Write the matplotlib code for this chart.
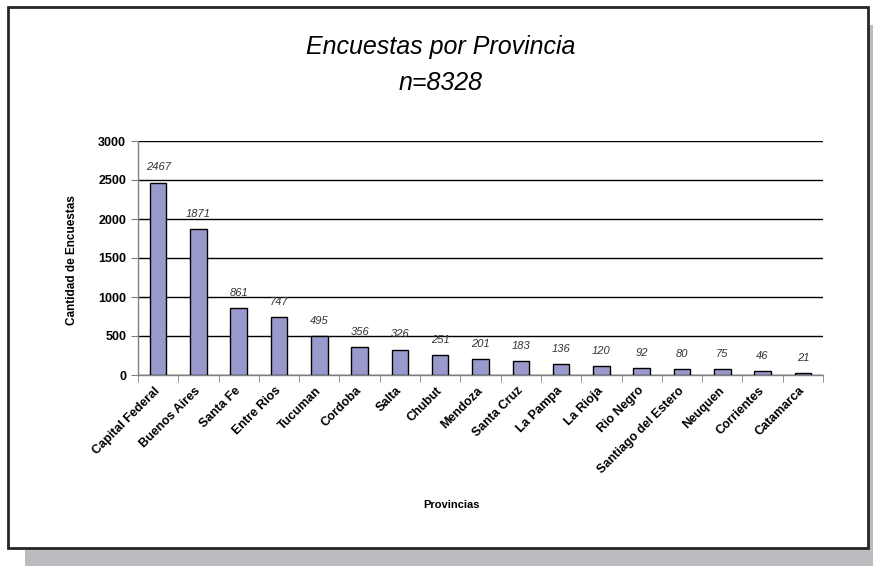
import numpy as np
import matplotlib.pyplot as plt
from matplotlib.patches import Rectangle
from matplotlib.ticker import MultipleLocator

plt.rc('font', family=['Liberation Sans', 'DejaVu Sans'])

# Survey counts per province
provincias = ["Capital Federal", "Buenos Aires", "Santa Fe", "Entre Rios", "Tucuman",
              "Cordoba", "Salta", "Chubut", "Mendoza", "Santa Cruz", "La Pampa",
              "La Rioja", "Rio Negro", "Santiago del Estero", "Neuquen", "Corrientes",
              "Catamarca"]
encuestas = [2467, 1871, 861, 747, 495, 356, 326, 251, 201, 183, 136, 120, 92, 80, 75, 46, 21]
total = 8328

fig = plt.figure(figsize=(8.73, 5.66), dpi=100)

# drop shadow and framed chart area
fig.patches.append(Rectangle((25 / 873, 0), 1 - 25 / 873, 1 - 25 / 566,
                             transform=fig.transFigure, facecolor="#bbbcc0",
                             edgecolor="none", zorder=0))
fig.patches.append(Rectangle((8 / 873, 18 / 566), 860 / 873, 541 / 566,
                             transform=fig.transFigure, facecolor="white",
                             edgecolor="#262626", linewidth=2, zorder=1))

ax = fig.add_axes([138 / 873, 191 / 566, 685 / 873, 234 / 566])
ax.set_zorder(2)
ax.set_facecolor("none")

x = np.arange(len(provincias))
bars = ax.bar(x, encuestas, width=0.41, color="#9999cc", edgecolor="black",
              linewidth=1, zorder=3)

for xi, v in zip(x, encuestas):
    ax.text(xi, v + 130, str(v), ha="center", va="bottom", fontsize=8,
            style="italic", color="#333333", zorder=4)

ax.set_xlim(-0.5, len(provincias) - 0.5)
ax.set_ylim(0, 3000)
ax.yaxis.set_major_locator(MultipleLocator(500))
ax.grid(axis="y", color="black", linewidth=1, zorder=1)
ax.set_axisbelow(True)

for s in ["top", "right"]:
    ax.spines[s].set_visible(False)
for s in ["left", "bottom"]:
    ax.spines[s].set_color("#808080")
    ax.spines[s].set_linewidth(1)

# category ticks sit between the bars
ax.set_xticks(x)
ax.set_xticks(np.arange(-0.5, len(provincias)), minor=True)
ax.tick_params(axis="x", which="major", length=0, pad=10)
ax.tick_params(axis="x", which="minor", length=5, color="#808080", direction="out")
ax.set_xticklabels(provincias, rotation=45, ha="right", va="center",
                   rotation_mode="anchor", fontsize=9, fontweight="bold")
ax.tick_params(axis="y", length=5, color="#808080", labelsize=9)
for lbl in ax.get_yticklabels():
    lbl.set_fontweight("bold")

fig.text(441 / 873, 1 - 47 / 566, "Encuestas por Provincia", ha="center", va="center",
         fontsize=18, style="italic", zorder=3)
fig.text(441 / 873, 1 - 83 / 566, "n=%d" % total, ha="center", va="center",
         fontsize=18, style="italic", zorder=3)
fig.text(72 / 873, 1 - 260 / 566, "Cantidad de Encuestas", rotation=90, ha="center",
         va="center", fontsize=8.5, fontweight="bold", zorder=3)
fig.text(451 / 873, 1 - 505 / 566, "Provincias", ha="center", va="center",
         fontsize=8, fontweight="bold", zorder=3)

fig.savefig("out.png", dpi=100)
